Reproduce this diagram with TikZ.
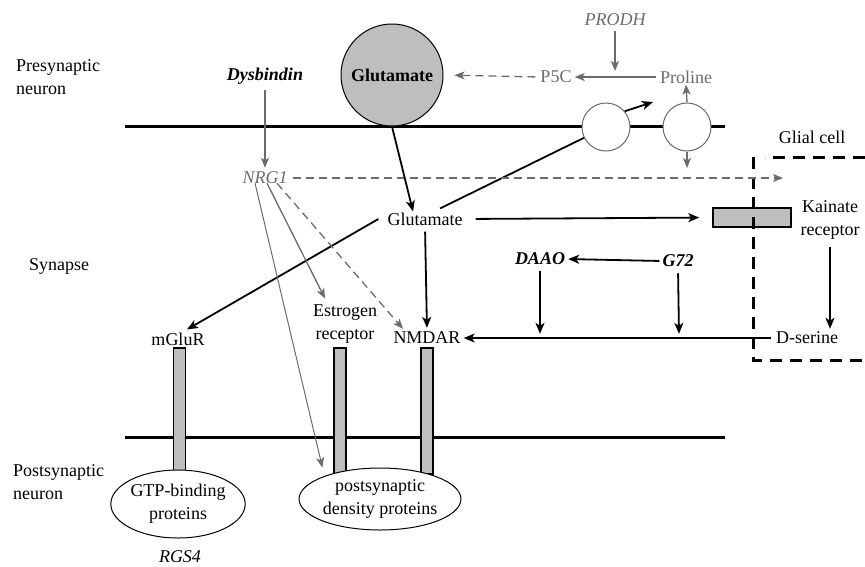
\documentclass[tikz,border=0pt]{standalone}
\usepackage{fontspec}
\setmainfont{Liberation Serif}
\usetikzlibrary{arrows.meta,shapes.geometric,calc}
\definecolor{grey}{HTML}{6B6B6B}
\definecolor{fillg}{HTML}{BEBEBE}
\tikzset{
  lbl/.style={font=\fontsize{18}{23}\selectfont, inner sep=1pt, align=center},
  glbl/.style={lbl, text=grey},
  arr/.style={-{Stealth[length=11pt,width=9pt,inset=3pt]}, line width=1.8pt},
  garr/.style={-{Stealth[length=10pt,width=8pt,inset=2.5pt]}, line width=1.3pt, grey},
  gdash/.style={garr, dash pattern=on 8pt off 5pt},
  memb/.style={line width=3pt},
  bar/.style={draw, fill=fillg, line width=1.5pt, minimum width=12pt, inner sep=0pt},
  trans/.style={circle, draw=grey, fill=white, line width=1pt, minimum size=48pt, inner sep=0pt},
  blob/.style={ellipse, draw, fill=white, line width=1pt, inner sep=0pt, align=center, font=\fontsize{18}{23}\selectfont},
  glialbox/.style={line width=3pt, dash pattern=on 12pt off 8pt},
}
\begin{document}
\begin{tikzpicture}[x=1pt,y=-1pt]
\useasboundingbox (0,0) rectangle (865,566);
% region labels
\node[lbl, align=left, anchor=west] (pre) at (15,77) {Presynaptic\\neuron};
\node[lbl, anchor=west] (syn) at (28,266) {Synapse};
\node[lbl, align=left, anchor=west] (post) at (12,482) {Postsynaptic\\neuron};
% text nodes
\node[lbl, font=\fontsize{18}{23}\selectfont\bfseries\itshape] (dys) at (265,76) {Dysbindin};
\node[glbl, font=\fontsize{18}{23}\selectfont\itshape] (nrg) at (265,178) {NRG1};
\node[glbl, font=\fontsize{18}{23}\selectfont\itshape] (prodh) at (615,20) {PRODH};
\node[glbl] (p5c) at (556,77) {P5C};
\node[glbl] (pro) at (686,77) {Proline};
\node[lbl] (glu) at (425,219) {Glutamate};
\node[lbl] (kaintxt) at (830,220) {Kainate\\receptor};
\node[lbl] (glial) at (812,137) {Glial cell};
\node[lbl] (dser) at (807,338) {D-serine};
\node[lbl, font=\fontsize{18}{23}\selectfont\bfseries\itshape] (g72) at (678,261) {G72};
\node[lbl, font=\fontsize{18}{23}\selectfont\bfseries\itshape] (daao) at (540,259) {DAAO};
\node[lbl] (nmdar) at (427,338) {NMDAR};
\node[lbl] (estr) at (345,324) {Estrogen\\receptor};
\node[lbl] (mglur) at (178,339) {mGluR};
\node[lbl, font=\fontsize{18}{23}\selectfont\itshape] (rgs) at (180,557) {RGS4};
% membranes
\draw[memb] (125,126) -- (725,126);
\draw[memb] (125,437) -- (725,437);
% big glutamate vesicle
\node[circle, draw, fill=fillg, line width=1pt, minimum size=102pt, inner sep=0pt, font=\fontsize{18}{23}\selectfont\bfseries] (gcirc) at (392,75) {Glutamate};
% receptor bars
\node[bar, minimum height=124pt] (b1) at (179.5,410) {};
\node[bar, minimum height=126pt] (b2) at (340,411) {};
\node[bar, minimum height=126pt] (b3) at (427,411) {};
% glutamate reuptake through transporter
\coordinate (t1c) at (606,127);
\coordinate (tp) at (653,102);
\draw[line width=1.8pt] ($(glu.north)+(15,-3)$) -- (t1c);
\node[trans] (t1) at (t1c) {};
\node[trans] (t2) at (687,127) {};
\draw[arr] (t1.40) -- (tp);
% postsynaptic protein complexes
\node[blob, minimum width=126pt, minimum height=68pt] (gtp) at (178,504) {GTP-binding\\proteins};
\node[blob, minimum width=142pt, minimum height=62pt] (psd) at (380,499) {postsynaptic\\density proteins};
% kainate receptor
\node[draw, fill=fillg, line width=1.5pt, minimum width=78pt, minimum height=19pt, inner sep=0pt] (kain) at (752,217.5) {};
% glial cell box
\draw[glialbox] (865,157) -- (765,157);
\draw[glialbox] (753,157) -- (753,360) -- (865,360);
% connectors
\draw[garr, shorten <=5pt, shorten >=3pt] (dys.south) -- (nrg.north);
\coordinate (nrgend) at (783,178);
\draw[gdash, shorten <=4pt] (nrg.east) -- (nrgend);
\draw[arr] (gcirc.south) -- ($(glu.north)+(-12,0)$);
\coordinate (t2d) at (687,168);
\draw[garr] (t2.north) -- (pro.south);
\draw[garr] (t2.south) -- (t2d);
\draw[garr, shorten <=3pt, shorten >=2pt] (pro.west) -- (p5c.east);
\coordinate (prodhend) at (615,71);
\draw[garr, shorten <=4pt] (prodh.south) -- (prodhend);
\draw[gdash, shorten <=4pt, shorten >=11pt] (p5c.west) -- (gcirc.east);
\draw[arr, shorten <=12pt, shorten >=13pt] (glu.east) -- (kain.west);
\draw[arr, shorten <=6pt, shorten >=2pt] (kaintxt.south) -- (kaintxt.south |- dser.north);
\draw[arr, shorten <=4pt, shorten >=2pt] (dser.west) -- (nmdar.east);
\draw[arr, shorten <=2pt, shorten >=2pt] (g72.west) -- (daao.east);
\draw[arr, shorten <=5pt] (daao.south) -- ($(daao.south |- nmdar.north)+(0,3)$);
\draw[arr, shorten <=5pt] (g72.south) -- ($(g72.south |- nmdar.north)+(1,3)$);
\draw[arr, shorten <=5pt, shorten >=3pt] (glu.south) -- (nmdar.north);
\draw[arr] ($(glu.west)+(-8,0)$) -- ($(mglur.north)+(9,-2)$);
\draw[garr] ($(nrg.south)+(2,-2)$) -- ($(estr.north)+(-20,-5)$);
\draw[gdash] ($(nrg.south)+(12,-2)$) -- ($(nmdar.north)+(-24,-2)$);
\draw[grey, line width=1pt, -{Stealth[length=10pt,width=8pt,inset=2.5pt]}] ($(nrg.south)+(-10,-2)$) -- (psd.north west |- psd.north);
\end{tikzpicture}
\end{document}
